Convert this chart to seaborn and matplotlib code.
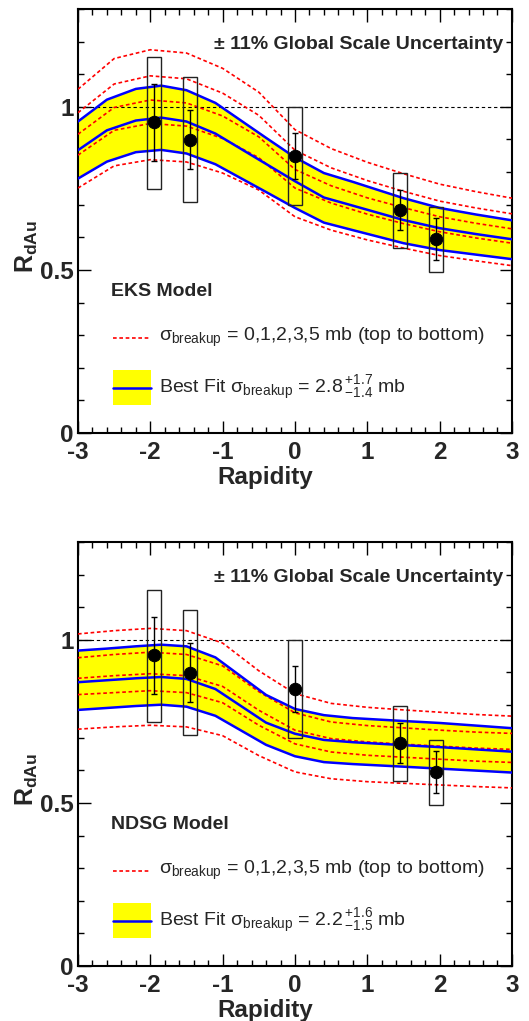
import numpy as np
import pandas as pd
import seaborn as sns
import matplotlib.pyplot as plt
from matplotlib.patches import Rectangle
from matplotlib.ticker import MultipleLocator, FixedLocator

# measured R_dAu points (same in both panels)
rapidity = [-1.95, -1.45, 0.0, 1.45, 1.95]
rdau = [0.952, 0.899, 0.850, 0.683, 0.594]
stat_err = [0.117, 0.090, 0.070, 0.061, 0.064]
sys_up = [0.202, 0.191, 0.150, 0.114, 0.100]
sys_down = [0.204, 0.191, 0.151, 0.116, 0.101]

# breakup cross section curves, 0,1,2,3,5 mb
curve_y = [-3, -2.5, -2, -1.5, -1, -0.5, 0, 0.5, 1, 1.5, 2, 2.5, 3]
eks_0mb = [1.054, 1.148, 1.175, 1.165, 1.118, 1.045, 0.930, 0.872, 0.830, 0.795, 0.763, 0.740, 0.720]
eks_1mb = [0.982, 1.070, 1.095, 1.086, 1.042, 0.974, 0.867, 0.813, 0.774, 0.741, 0.711, 0.690, 0.672]
eks_2mb = [0.916, 0.998, 1.021, 1.012, 0.972, 0.908, 0.808, 0.758, 0.721, 0.691, 0.663, 0.643, 0.626]
eks_3mb = [0.852, 0.928, 0.949, 0.941, 0.903, 0.844, 0.751, 0.705, 0.671, 0.642, 0.617, 0.598, 0.582]
eks_5mb = [0.751, 0.819, 0.838, 0.831, 0.797, 0.745, 0.663, 0.622, 0.592, 0.567, 0.544, 0.528, 0.513]

ndsg_0mb = [1.018, 1.028, 1.035, 1.028, 0.990, 0.905, 0.835, 0.805, 0.793, 0.785, 0.778, 0.771, 0.766]
ndsg_1mb = [0.945, 0.955, 0.962, 0.955, 0.920, 0.841, 0.776, 0.748, 0.737, 0.730, 0.723, 0.717, 0.713]
ndsg_2mb = [0.882, 0.890, 0.896, 0.890, 0.857, 0.784, 0.723, 0.697, 0.687, 0.680, 0.674, 0.668, 0.664]
ndsg_3mb = [0.832, 0.838, 0.844, 0.838, 0.807, 0.738, 0.681, 0.656, 0.646, 0.640, 0.634, 0.628, 0.624]
ndsg_5mb = [0.726, 0.733, 0.738, 0.733, 0.706, 0.645, 0.595, 0.574, 0.565, 0.560, 0.555, 0.550, 0.546]

# best fit curve with its band
fit_y = [-3, -2.6, -2.2, -1.85, -1.5, -1.1, -0.4, 0, 0.4, 0.8, 1.5, 2, 2.5, 3]
eks_fit_hi = [0.955, 1.022, 1.055, 1.065, 1.051, 1.012, 0.905, 0.845, 0.797, 0.770, 0.720, 0.690, 0.670, 0.652]
eks_fit = [0.867, 0.928, 0.958, 0.967, 0.955, 0.918, 0.825, 0.772, 0.722, 0.697, 0.653, 0.628, 0.610, 0.594]
eks_fit_lo = [0.780, 0.832, 0.861, 0.868, 0.857, 0.824, 0.739, 0.690, 0.645, 0.622, 0.582, 0.561, 0.547, 0.533]

ndsg_fit_hi = [0.967, 0.973, 0.980, 0.985, 0.980, 0.946, 0.831, 0.788, 0.769, 0.760, 0.751, 0.745, 0.737, 0.729]
ndsg_fit = [0.870, 0.876, 0.882, 0.886, 0.880, 0.849, 0.746, 0.712, 0.693, 0.686, 0.677, 0.671, 0.664, 0.657]
ndsg_fit_lo = [0.785, 0.791, 0.797, 0.801, 0.795, 0.767, 0.678, 0.643, 0.625, 0.619, 0.611, 0.605, 0.599, 0.593]

sns.set_theme(style="ticks")
plt.rcParams['font.family'] = ['Liberation Sans', 'DejaVu Sans']
plt.rcParams['mathtext.fontset'] = 'custom'
plt.rcParams['mathtext.rm'] = 'Liberation Sans'
plt.rcParams['mathtext.it'] = 'Liberation Sans:italic'
plt.rcParams['mathtext.bf'] = 'Liberation Sans:bold'
plt.rcParams['axes.unicode_minus'] = False

RED_DASH = (0, (2.2, 1.6))


def draw_panel(ax, reds, fit_lo, fit_mid, fit_hi, model, fit_text):
    ax.fill_between(fit_y, fit_lo, fit_hi, color='#ffff00', lw=0, zorder=1)
    ax.axhline(1.0, color='black', lw=0.8, ls=(0, (3, 2.5)), zorder=2)
    for c in reds:
        sns.lineplot(x=curve_y, y=c, ax=ax, color='#ff0000', lw=1.2,
                     linestyle=RED_DASH, zorder=3, estimator=None, sort=False)
    for c in (fit_lo, fit_mid, fit_hi):
        sns.lineplot(x=fit_y, y=c, ax=ax, color='#0000ff', lw=1.8,
                     zorder=4, estimator=None, sort=False)

    # systematic boxes
    for x, y, up, dn in zip(rapidity, rdau, sys_up, sys_down):
        ax.add_patch(Rectangle((x - 0.1, y - dn), 0.2, up + dn, fill=False,
                               ec='#222222', lw=1.0, zorder=5))
    ax.errorbar(rapidity, rdau, yerr=stat_err, fmt='none', ecolor='black',
                elinewidth=1.0, capsize=2.2, capthick=1.0, zorder=6)
    sns.scatterplot(x=rapidity, y=rdau, ax=ax, color='black', s=80,
                    edgecolor='black', zorder=7)

    ax.set_xlim(-3, 3)
    ax.set_ylim(0, 1.3)
    ax.xaxis.set_major_locator(FixedLocator([-3, -2, -1, 0, 1, 2, 3]))
    ax.xaxis.set_minor_locator(MultipleLocator(0.2))
    ax.yaxis.set_major_locator(FixedLocator([0, 0.5, 1]))
    ax.yaxis.set_minor_locator(MultipleLocator(0.1))
    ax.set_xticklabels(['-3', '-2', '-1', '0', '1', '2', '3'],
                       fontsize=17.5, fontweight='bold')
    ax.set_yticklabels(['0', '0.5', '1'], fontsize=17.5, fontweight='bold')
    ax.tick_params(which='both', direction='in', top=True, right=True,
                   width=1.0, color='black')
    ax.tick_params(axis='x', which='major', length=9, pad=6)
    ax.tick_params(axis='y', which='major', length=9, pad=3)
    ax.tick_params(which='minor', length=4.5)
    for s in ax.spines.values():
        s.set_linewidth(1.5)
        s.set_color('black')

    ax.set_xlabel('Rapidity', fontsize=17.5, fontweight='bold')
    ax.xaxis.set_label_coords(0.431, -0.078)
    ax.set_ylabel(r'$\mathbf{R}_{\mathbf{dAu}}$', fontsize=18)
    ax.yaxis.set_label_coords(-0.088, 0.44)

    ax.text(0.979, 0.917, '\u00b1 11% Global Scale Uncertainty',
            transform=ax.transAxes, ha='right', va='center',
            fontsize=14, fontweight='bold')
    ax.text(0.076, 0.333, model, transform=ax.transAxes, ha='left',
            va='center', fontsize=14, fontweight='bold')

    # legend drawn by hand, ROOT style
    ax.plot([0.081, 0.168], [0.224, 0.224], transform=ax.transAxes,
            color='#ff0000', lw=1.2, ls=RED_DASH)
    ax.text(0.187, 0.226,
            '\u03c3$_{\\mathrm{breakup}}$ = 0,1,2,3,5 mb (top to bottom)',
            transform=ax.transAxes, ha='left', va='center', fontsize=14)
    ax.add_patch(Rectangle((0.081, 0.066), 0.087, 0.083,
                           transform=ax.transAxes, color='#ffff00', lw=0))
    ax.plot([0.081, 0.168], [0.107, 0.107], transform=ax.transAxes,
            color='#0000ff', lw=1.8)
    ax.text(0.187, 0.107, fit_text, transform=ax.transAxes, ha='left',
            va='center', fontsize=14)


fig = plt.figure(figsize=(5.29, 10.21), dpi=100)
ax1 = fig.add_axes([0.1474, 0.5759, 0.8204, 0.4153])
ax2 = fig.add_axes([0.1474, 0.0539, 0.8204, 0.4153])

draw_panel(ax1, [eks_0mb, eks_1mb, eks_2mb, eks_3mb, eks_5mb],
           eks_fit_lo, eks_fit, eks_fit_hi, 'EKS Model',
           'Best Fit \u03c3$_{\\mathrm{breakup}}$ = 2.8$\\,^{+1.7}_{-1.4}$ mb')
draw_panel(ax2, [ndsg_0mb, ndsg_1mb, ndsg_2mb, ndsg_3mb, ndsg_5mb],
           ndsg_fit_lo, ndsg_fit, ndsg_fit_hi, 'NDSG Model',
           'Best Fit \u03c3$_{\\mathrm{breakup}}$ = 2.2$\\,^{+1.6}_{-1.5}$ mb')

fig.savefig('out.png', dpi=100)
